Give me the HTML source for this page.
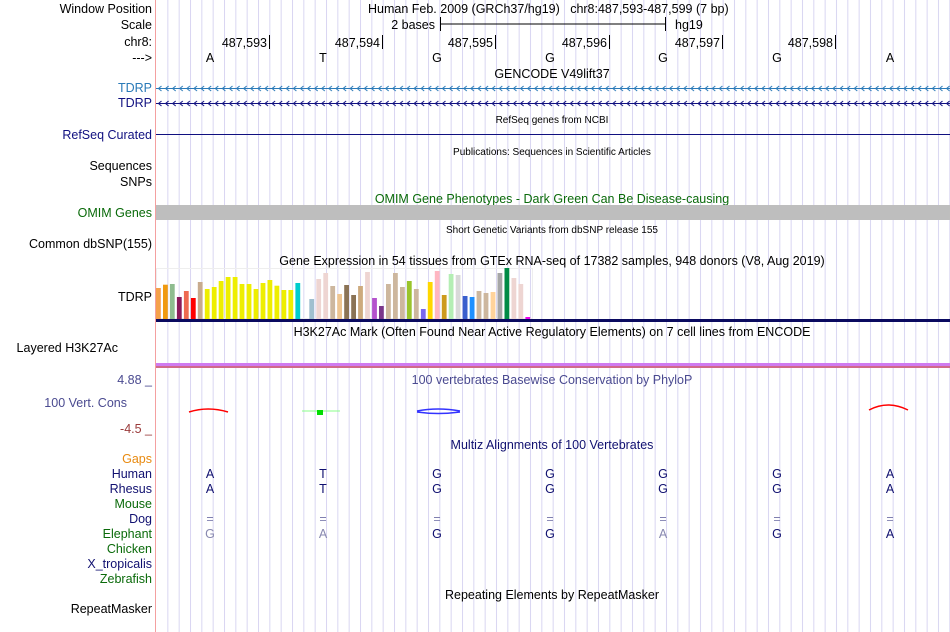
<!DOCTYPE html>
<html><head><meta charset="utf-8"><style>
body{margin:0;background:#fff}
svg{display:block;font-family:"Liberation Sans",Arial,sans-serif}
</style></head><body>
<svg width="950" height="632" viewBox="0 0 950 632" xmlns="http://www.w3.org/2000/svg">
<defs>
<pattern id="gp" x="156" y="0" width="11.333" height="632" patternUnits="userSpaceOnUse">
<rect x="0" y="0" width="1" height="632" fill="#d9d6f2"/>
</pattern>
<pattern id="cp1" x="158" y="84" width="7.1" height="10" patternUnits="userSpaceOnUse">
<path d="M3.5 2 L0.5 4.5 L3.5 7" stroke="#2a7ab8" fill="none" stroke-width="1"/>
</pattern>
<pattern id="cp2" x="158" y="99" width="7.1" height="10" patternUnits="userSpaceOnUse">
<path d="M3.5 2 L0.5 4.5 L3.5 7" stroke="#101080" fill="none" stroke-width="1"/>
</pattern>
</defs>
<rect width="950" height="632" fill="#fff"/>
<rect x="157" y="0" width="793" height="632" fill="url(#gp)"/>
<line x1="155.5" y1="0" x2="155.5" y2="632" stroke="#f4a0a0"/>
<g font-size="12.5" text-anchor="end" fill="#000">
<text x="152" y="13">Window Position</text>
<text x="152" y="29">Scale</text>
<text x="152" y="46">chr8:</text>
<text x="152" y="62">---&gt;</text>
<text x="152" y="92" fill="#2a7ab8">TDRP</text>
<text x="152" y="107" fill="#101080">TDRP</text>
<text x="152" y="139" fill="#101080">RefSeq Curated</text>
<text x="152" y="170">Sequences</text>
<text x="152" y="186">SNPs</text>
<text x="152" y="217" fill="#0a6a0a">OMIM Genes</text>
<text x="152" y="248">Common dbSNP(155)</text>
<text x="152" y="301">TDRP</text>
<text x="118" y="352">Layered H3K27Ac</text>
<text x="152" y="384" fill="#4a4a90">4.88 _</text>
<text x="127" y="407" fill="#4a4a90">100 Vert. Cons</text>
<text x="152" y="433" fill="#9a3a3a">-4.5 _</text>
<text x="152" y="463" fill="#e88a10">Gaps</text>
<text x="152" y="478" fill="#101070">Human</text>
<text x="152" y="493" fill="#101070">Rhesus</text>
<text x="152" y="508" fill="#0a6a0a">Mouse</text>
<text x="152" y="523" fill="#101070">Dog</text>
<text x="152" y="538" fill="#0a6a0a">Elephant</text>
<text x="152" y="553" fill="#0a6a0a">Chicken</text>
<text x="152" y="568" fill="#101070">X_tropicalis</text>
<text x="152" y="583" fill="#0a6a0a">Zebrafish</text>
<text x="152" y="613">RepeatMasker</text>
</g>
<g font-size="12.5" fill="#000">
<text x="368" y="13">Human Feb. 2009 (GRCh37/hg19)&#160;&#160;&#160;chr8:487,593-487,599 (7 bp)</text>
<text x="435" y="29" text-anchor="end">2 bases</text>
<line x1="440" y1="24" x2="665" y2="24" stroke="#000"/>
<line x1="440.5" y1="17" x2="440.5" y2="31" stroke="#000"/>
<line x1="665.5" y1="17" x2="665.5" y2="31" stroke="#000"/>
<text x="675" y="29">hg19</text>
<g text-anchor="end">
<text x="267" y="47">487,593</text><text x="380" y="47">487,594</text><text x="493" y="47">487,595</text>
<text x="607" y="47">487,596</text><text x="720" y="47">487,597</text><text x="833" y="47">487,598</text>
</g>
<g stroke="#000"><line x1="269.5" y1="35" x2="269.5" y2="49"/><line x1="382.5" y1="35" x2="382.5" y2="49"/><line x1="495.5" y1="35" x2="495.5" y2="49"/><line x1="609.5" y1="35" x2="609.5" y2="49"/><line x1="722.5" y1="35" x2="722.5" y2="49"/><line x1="835.5" y1="35" x2="835.5" y2="49"/></g>
<g text-anchor="middle">
<text x="210" y="62">A</text><text x="323" y="62">T</text><text x="437" y="62">G</text><text x="550" y="62">G</text><text x="663" y="62">G</text><text x="777" y="62">G</text><text x="890" y="62">A</text>
<text x="552" y="78">GENCODE V49lift37</text>
<text x="552" y="123" font-size="10">RefSeq genes from NCBI</text>
<text x="552" y="155" font-size="10">Publications: Sequences in Scientific Articles</text>
<text x="552" y="203" fill="#0a6a0a">OMIM Gene Phenotypes - Dark Green Can Be Disease-causing</text>
<text x="552" y="233" font-size="10">Short Genetic Variants from dbSNP release 155</text>
<text x="552" y="265">Gene Expression in 54 tissues from GTEx RNA-seq of 17382 samples, 948 donors (V8, Aug 2019)</text>
<text x="552" y="336">H3K27Ac Mark (Often Found Near Active Regulatory Elements) on 7 cell lines from ENCODE</text>
<text x="552" y="384" fill="#4a4a90">100 vertebrates Basewise Conservation by PhyloP</text>
<text x="552" y="449" fill="#101070">Multiz Alignments of 100 Vertebrates</text>
<text x="552" y="599">Repeating Elements by RepeatMasker</text>
</g>
<g text-anchor="middle" fill="#101070">
<text x="210" y="478">A</text><text x="323" y="478">T</text><text x="437" y="478">G</text><text x="550" y="478">G</text><text x="663" y="478">G</text><text x="777" y="478">G</text><text x="890" y="478">A</text>
<text x="210" y="493">A</text><text x="323" y="493">T</text><text x="437" y="493">G</text><text x="550" y="493">G</text><text x="663" y="493">G</text><text x="777" y="493">G</text><text x="890" y="493">A</text>
<g fill="#8080b0"><text x="210" y="523">=</text><text x="323" y="523">=</text><text x="437" y="523">=</text><text x="550" y="523">=</text><text x="663" y="523">=</text><text x="777" y="523">=</text><text x="890" y="523">=</text></g>
<text x="210" y="538" fill="#8888b0">G</text><text x="323" y="538" fill="#8888b0">A</text><text x="437" y="538">G</text><text x="550" y="538">G</text><text x="663" y="538" fill="#8888b0">A</text><text x="777" y="538">G</text><text x="890" y="538">A</text>
</g>
</g>
<line x1="156" y1="88.5" x2="950" y2="88.5" stroke="#2a7ab8"/>
<line x1="156" y1="103.5" x2="950" y2="103.5" stroke="#101080"/>
<rect x="156" y="84" width="794" height="10" fill="url(#cp1)"/>
<rect x="156" y="99" width="794" height="10" fill="url(#cp2)"/>
<line x1="156" y1="134.5" x2="950" y2="134.5" stroke="#101080"/>
<rect x="156" y="205" width="794" height="15" fill="#bebebe"/>
<rect x="156.5" y="268.5" width="376" height="50" fill="none" stroke="#eee"/>
<g>
<rect x="156.0" y="288" width="4.8" height="31" fill="#f5a04a"/>
<rect x="163.0" y="284.7" width="4.8" height="34.3" fill="#f09a10"/>
<rect x="169.9" y="284" width="4.8" height="35" fill="#8fbc8f"/>
<rect x="176.9" y="297" width="4.8" height="22" fill="#8b1a5a"/>
<rect x="183.9" y="291" width="4.8" height="28" fill="#ee6a50"/>
<rect x="190.9" y="298" width="4.8" height="21" fill="#ff0000"/>
<rect x="197.8" y="282" width="4.8" height="37" fill="#c8ab8e"/>
<rect x="204.8" y="289" width="4.8" height="30" fill="#eeee00"/>
<rect x="211.8" y="287" width="4.8" height="32" fill="#eeee00"/>
<rect x="218.7" y="281" width="4.8" height="38" fill="#eeee00"/>
<rect x="225.7" y="277" width="4.8" height="42" fill="#eeee00"/>
<rect x="232.7" y="277" width="4.8" height="42" fill="#eeee00"/>
<rect x="239.6" y="284" width="4.8" height="35" fill="#eeee00"/>
<rect x="246.6" y="284" width="4.8" height="35" fill="#eeee00"/>
<rect x="253.6" y="289" width="4.8" height="30" fill="#eeee00"/>
<rect x="260.6" y="283" width="4.8" height="36" fill="#eeee00"/>
<rect x="267.5" y="280" width="4.8" height="39" fill="#eeee00"/>
<rect x="274.5" y="285.7" width="4.8" height="33.3" fill="#eeee00"/>
<rect x="281.5" y="290" width="4.8" height="29" fill="#eeee00"/>
<rect x="288.4" y="290" width="4.8" height="29" fill="#eeee00"/>
<rect x="295.4" y="283" width="4.8" height="36" fill="#00cdcd"/>
<rect x="309.3" y="299" width="4.8" height="20" fill="#9fbfcf"/>
<rect x="316.3" y="279" width="4.8" height="40" fill="#eed5d2"/>
<rect x="323.3" y="273" width="4.8" height="46" fill="#eed5d2"/>
<rect x="330.3" y="286" width="4.8" height="33" fill="#cdb79e"/>
<rect x="337.2" y="294" width="4.8" height="25" fill="#eec591"/>
<rect x="344.2" y="285" width="4.8" height="34" fill="#8b7355"/>
<rect x="351.2" y="295" width="4.8" height="24" fill="#8b7355"/>
<rect x="358.1" y="286" width="4.8" height="33" fill="#cdaa7d"/>
<rect x="365.1" y="272" width="4.8" height="47" fill="#eed5d2"/>
<rect x="372.1" y="298" width="4.8" height="21" fill="#b452cd"/>
<rect x="379.0" y="306" width="4.8" height="13" fill="#7a378b"/>
<rect x="386.0" y="284" width="4.8" height="35" fill="#cdb79e"/>
<rect x="393.0" y="273" width="4.8" height="46" fill="#cdb79e"/>
<rect x="400.0" y="287" width="4.8" height="32" fill="#cdb79e"/>
<rect x="406.9" y="281" width="4.8" height="38" fill="#9ac42c"/>
<rect x="413.9" y="289" width="4.8" height="30" fill="#cdb79e"/>
<rect x="420.9" y="309" width="4.8" height="10" fill="#7b68ee"/>
<rect x="427.8" y="282" width="4.8" height="37" fill="#ffd700"/>
<rect x="434.8" y="271" width="4.8" height="48" fill="#ffb6c1"/>
<rect x="441.8" y="295" width="4.8" height="24" fill="#cd9b1d"/>
<rect x="448.7" y="274" width="4.8" height="45" fill="#b4eeb4"/>
<rect x="455.7" y="275" width="4.8" height="44" fill="#d9d9d9"/>
<rect x="462.7" y="296" width="4.8" height="23" fill="#3a5fcd"/>
<rect x="469.7" y="297" width="4.8" height="22" fill="#1e90ff"/>
<rect x="476.6" y="291" width="4.8" height="28" fill="#cdb79e"/>
<rect x="483.6" y="293" width="4.8" height="26" fill="#cdb79e"/>
<rect x="490.6" y="292" width="4.8" height="27" fill="#ffd39b"/>
<rect x="497.5" y="273" width="4.8" height="46" fill="#a6a6a6"/>
<rect x="504.5" y="268" width="4.8" height="51" fill="#008b45"/>
<rect x="511.5" y="278" width="4.8" height="41" fill="#eed5d2"/>
<rect x="518.4" y="284" width="4.8" height="35" fill="#eed5d2"/>
<rect x="525.4" y="317" width="4.8" height="2" fill="#ee00ee"/>
</g>
<rect x="156" y="319" width="794" height="3" fill="#0a0a60"/>
<rect x="156" y="363" width="794" height="4" fill="#d07af0"/>
<rect x="156" y="366" width="794" height="2" fill="#d06a8a"/>
<g fill="none" stroke-width="1.5">
<path d="M189 412 Q208 406 228 412" stroke="#f00"/>
<path d="M302 411 L340 411" stroke="#8f8" stroke-width="1"/>
<rect x="317" y="410" width="6" height="5" fill="#0d0" stroke="none"/>
<path d="M417 411 Q438 407 460 411 M417 412 Q438 415 460 412" stroke="#33f"/>
<path d="M869 410 Q888 400 908 410" stroke="#f00"/>
</g>
</svg>
</body></html>
